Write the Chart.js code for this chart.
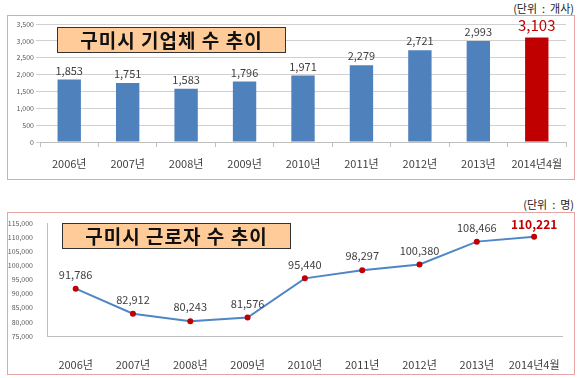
<!DOCTYPE html>
<html>
<head>
<meta charset="utf-8">
<script src="https://cdn.jsdelivr.net/npm/chart.js"></script>
<style>
  body { margin: 0; background: #fff; width: 580px; height: 378px; position: relative; overflow: hidden;
         font-family: "Noto Sans CJK KR", sans-serif; }
  .box { position: absolute; border: 1px solid #E8A3A3; box-sizing: border-box; }
  .unit { position: absolute; font-size: 11px; color: #222; white-space: pre; }
  .title { position: absolute; background: #FFCC99; border: 1.5px solid #333; box-sizing: border-box;
           font-weight: bold; font-size: 19px; text-align: center; color: #111; letter-spacing: 1px; }
  canvas { position: absolute; }
</style>
</head>
<body>
<div class="unit" style="right:6px; top:0px;">(단위  :  개사)</div>
<div class="box" style="left:7px; top:15px; width:568px; height:165px;"></div>
<div class="box" style="left:7px; top:212px; width:568px; height:163px;"></div>
<div class="unit" style="right:6px; top:196px;">(단위  :  명)</div>
<div style="position:absolute; left:8px; top:16px; width:566px; height:163px;"><canvas id="barChart"></canvas></div>
<div style="position:absolute; left:8px; top:213px; width:566px; height:161px;"><canvas id="lineChart"></canvas></div>
<div class="title" style="left:57px; top:27px; width:229px; height:26px; line-height:23px;">구미시 기업체 수 추이</div>
<div class="title" style="left:62px; top:223px; width:229px; height:26px; line-height:23px;">구미시 근로자 수 추이</div>
<script>
var years = ["2006년", "2007년", "2008년", "2009년", "2010년", "2011년", "2012년", "2013년", "2014년4월"];
var companies = [1853, 1751, 1583, 1796, 1971, 2279, 2721, 2993, 3103];
var workers = [91786, 82912, 80243, 81576, 95440, 98297, 100380, 108466, 110221];

var fontFamily = '"Noto Sans CJK KR", sans-serif';

var valueLabels = {
  id: "valueLabels",
  afterDatasetsDraw: function (chart, args, opts) {
    var ctx = chart.ctx;
    var meta = chart.getDatasetMeta(0);
    var data = chart.data.datasets[0].data;
    meta.data.forEach(function (el, i) {
      var last = i === data.length - 1;
      ctx.save();
      ctx.textAlign = "center";
      ctx.textBaseline = "middle";
      ctx.font = last ? opts.lastFont : "11px " + fontFamily;
      ctx.fillStyle = last ? "#C00000" : "#404040";
      ctx.fillText(data[i].toLocaleString("en-US"), el.x, el.y - (last ? opts.lastOffset : opts.offset));
      ctx.restore();
    });
  }
};

new Chart(document.getElementById("barChart"), {
  type: "bar",
  data: {
    labels: years,
    datasets: [{
      data: companies,
      backgroundColor: companies.map(function (v, i) { return i === companies.length - 1 ? "#C00000" : "#4F81BD"; }),
      categoryPercentage: 1,
      barPercentage: 0.4
    }]
  },
  options: {
    responsive: true,
    maintainAspectRatio: false,
    animation: false,
    layout: { padding: { top: 8, right: 8, left: 0, bottom: 0 } },
    plugins: {
      legend: { display: false },
      tooltip: { enabled: false },
      valueLabels: { offset: 9, lastOffset: 12, lastFont: "15px " + fontFamily }
    },
    scales: {
      y: {
        min: 0, max: 3500,
        ticks: { stepSize: 500, font: { size: 7, family: fontFamily }, color: "#595959", padding: 2 },
        grid: { color: "#D0D0D0", tickLength: 4 },
        border: { display: false },
        afterFit: function (s) { s.width = 32; }
      },
      x: {
        ticks: { font: { size: 11, family: fontFamily }, color: "#404040", padding: 10 },
        grid: { drawOnChartArea: false, color: "#BFBFBF", tickLength: 5 },
        border: { color: "#BFBFBF" },
        afterFit: function (s) { s.height = 37; }
      }
    }
  },
  plugins: [valueLabels]
});

new Chart(document.getElementById("lineChart"), {
  type: "line",
  data: {
    labels: years,
    datasets: [{
      data: workers,
      borderColor: "#4F86C6",
      borderWidth: 2,
      pointBackgroundColor: "#C00000",
      pointBorderColor: "#C00000",
      pointRadius: 2,
      tension: 0
    }]
  },
  options: {
    responsive: true,
    maintainAspectRatio: false,
    animation: false,
    layout: { padding: { top: 7, right: 9, left: 0, bottom: 0 } },
    plugins: {
      legend: { display: false },
      tooltip: { enabled: false },
      valueLabels: { offset: 14, lastOffset: 12, lastFont: "bold 12px " + fontFamily }
    },
    scales: {
      y: {
        min: 75000, max: 115000,
        ticks: { stepSize: 5000, font: { size: 7, family: fontFamily }, color: "#595959", padding: 6 },
        grid: { display: false },
        border: { color: "#BFBFBF" },
        afterFit: function (s) { s.width = 39; }
      },
      x: {
        offset: true,
        ticks: { font: { size: 11, family: fontFamily }, color: "#404040", padding: 14 },
        grid: { display: false },
        border: { color: "#BFBFBF" },
        afterFit: function (s) { s.height = 38; }
      }
    }
  },
  plugins: [valueLabels]
});
</script>
</body>
</html>
